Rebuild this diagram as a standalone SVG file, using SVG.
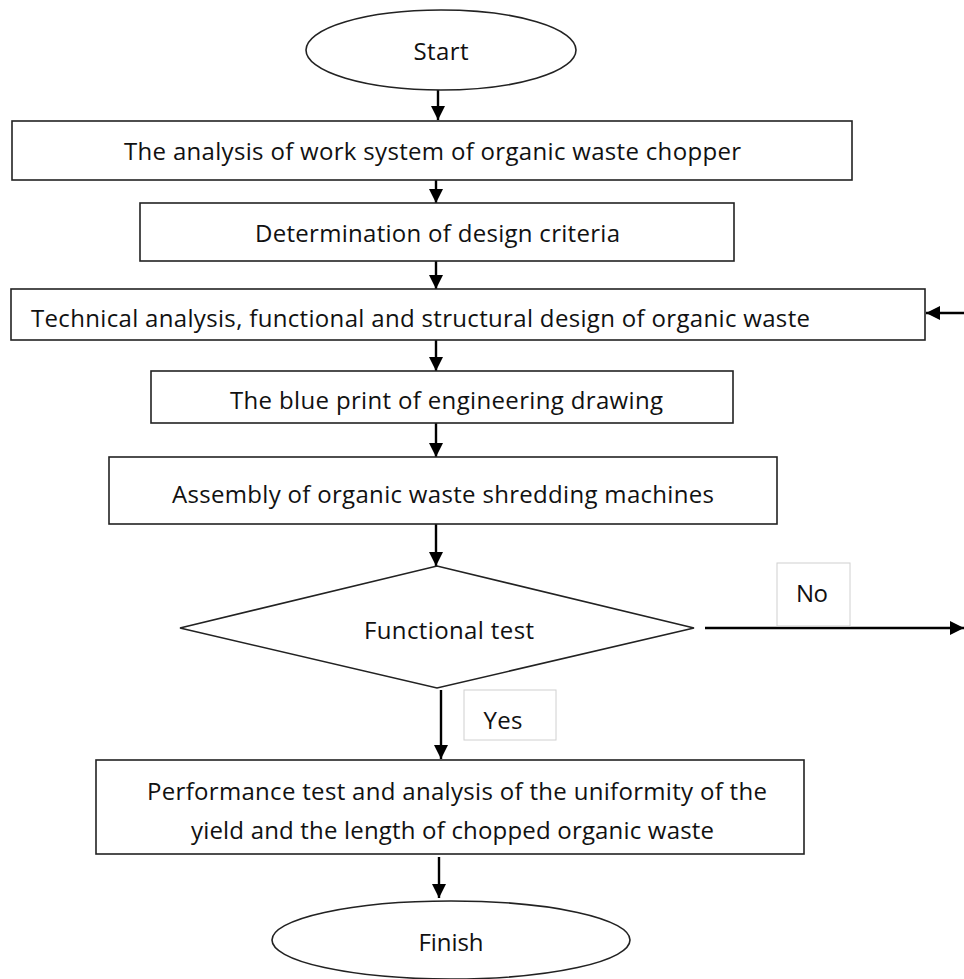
<svg xmlns="http://www.w3.org/2000/svg" width="964" height="979" viewBox="0 0 964 979">
<defs>
<style>
.shape{fill:#fff;stroke:#222;stroke-width:1.6}
.lbl{fill:#fff;stroke:#d0d0d0;stroke-width:1}
.t{font-family:"Open Sans",Lato,"Liberation Sans",sans-serif;font-size:24px;fill:#111;text-anchor:middle;dominant-baseline:central}
.c{stroke:#000;stroke-width:2.4;fill:none}
</style>
<marker id="ah" markerUnits="userSpaceOnUse" markerWidth="14" markerHeight="16" refX="14" refY="7" orient="auto">
<path d="M0,0 L14,7 L0,14 Z" fill="#000"/>
</marker>
</defs>
<rect width="964" height="979" fill="#fff"/>
<g id="connectors">
<line class="c" x1="438" y1="90" x2="438" y2="120" marker-end="url(#ah)"/>
<line class="c" x1="436" y1="180" x2="436" y2="203" marker-end="url(#ah)"/>
<line class="c" x1="436" y1="261" x2="436" y2="289" marker-end="url(#ah)"/>
<line class="c" x1="436" y1="340" x2="436" y2="371" marker-end="url(#ah)"/>
<line class="c" x1="436" y1="423" x2="436" y2="457" marker-end="url(#ah)"/>
<line class="c" x1="436" y1="524" x2="436" y2="566" marker-end="url(#ah)"/>
<line class="c" x1="705" y1="628" x2="964" y2="628" marker-end="url(#ah)"/>
<line class="c" x1="964" y1="313" x2="926" y2="313" marker-end="url(#ah)"/>
<line class="c" x1="441" y1="690" x2="441" y2="759" marker-end="url(#ah)"/>
<line class="c" x1="439" y1="857" x2="439" y2="898" marker-end="url(#ah)"/>
</g>
<g id="start"><ellipse class="shape" cx="441" cy="50" rx="135" ry="40"/><text class="t" x="441" y="50" textLength="55" lengthAdjust="spacing">Start</text></g>
<g id="n1"><rect class="shape" x="12" y="121" width="840" height="59"/><text class="t" x="432.5" y="150" textLength="617" lengthAdjust="spacing">The analysis of work system of organic waste chopper</text></g>
<g id="n2"><rect class="shape" x="140" y="203" width="594" height="58"/><text class="t" x="437.5" y="232" textLength="365" lengthAdjust="spacing">Determination of design criteria</text></g>
<g id="n3"><rect class="shape" x="11" y="289" width="914" height="51"/><text class="t" x="420.5" y="317" textLength="779" lengthAdjust="spacing">Technical analysis, functional and structural design of organic waste</text></g>
<g id="n4"><rect class="shape" x="151" y="371" width="582" height="52"/><text class="t" x="446.5" y="399" textLength="433" lengthAdjust="spacing">The blue print of engineering drawing</text></g>
<g id="n5"><rect class="shape" x="109" y="457" width="668" height="67"/><text class="t" x="443" y="493" textLength="542" lengthAdjust="spacing">Assembly of organic waste shredding machines</text></g>
<g id="decision"><polygon class="shape" points="180,628 437,566 694,628 437,688"/><text class="t" x="449" y="629" textLength="170" lengthAdjust="spacing">Functional test</text></g>
<g id="no-label"><rect class="lbl" x="777" y="563" width="73" height="63"/><text class="t" x="812" y="592" textLength="32" lengthAdjust="spacing">No</text></g>
<g id="yes-label"><rect class="lbl" x="464" y="690" width="92" height="50"/><text class="t" x="503" y="719" textLength="39" lengthAdjust="spacing">Yes</text></g>
<g id="n6"><rect class="shape" x="96" y="760" width="708" height="94"/><text class="t" x="457" y="790" textLength="620" lengthAdjust="spacing">Performance test and analysis of the uniformity of the</text><text class="t" x="452.5" y="829" textLength="523" lengthAdjust="spacing">yield and the length of chopped organic waste</text></g>
<g id="finish"><ellipse class="shape" cx="451" cy="940" rx="179" ry="39"/><text class="t" x="451" y="941" textLength="65" lengthAdjust="spacing">Finish</text></g>
</svg>
